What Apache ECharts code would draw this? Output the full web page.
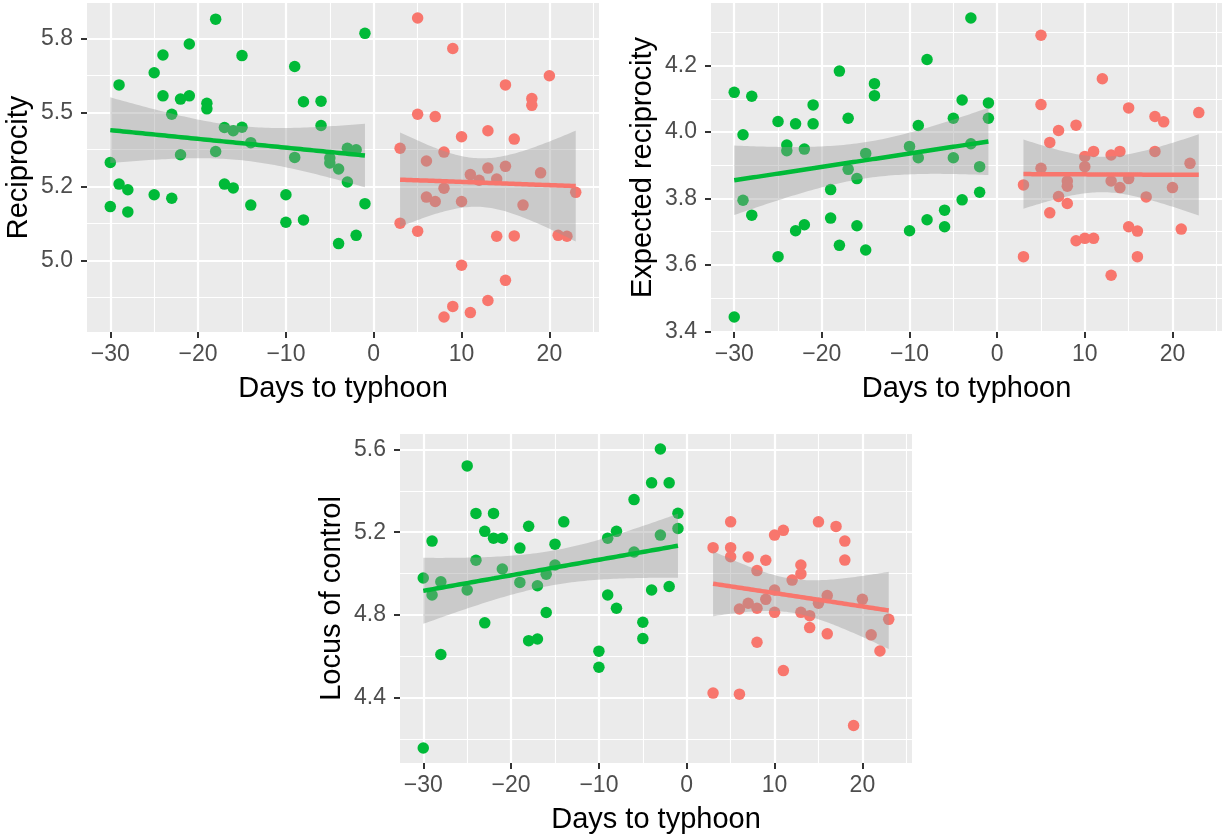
<!DOCTYPE html>
<html>
<head>
<meta charset="utf-8">
<script src="https://cdn.jsdelivr.net/npm/echarts@6/dist/echarts.min.js"></script>
<style>
html,body{margin:0;padding:0;background:#ffffff;}
#chart{width:1223px;height:838px;}
</style>
</head>
<body>
<div id="chart"></div>
<script>
// ---------- shared axis data ----------
const xTitle = 'Days to typhoon';
const xTicks = [-30, -20, -10, 0, 10, 20];
const xMinorTicks = [-25, -15, -5, 5, 15, 25];

// ---------- Panel 1: Reciprocity ----------
const recipTitle = 'Reciprocity';
const recipTicks = [5.0, 5.25, 5.5, 5.75];
const recipTickLabels = ['5.0', '5.2', '5.5', '5.8'];
const recipMinorTicks = [4.875, 5.125, 5.375, 5.625];
const recipBeforeDays = [-30,-30,-29,-29,-28,-28,-25,-25,-24,-24,-23,-23,-22,-22,-21,-21,-19,-19,-18,-18,-17,-17,-16,-16,-15,-15,-14,-14,-10,-10,-9,-9,-8,-8,-6,-6,-5,-5,-4,-4,-3,-3,-2,-2,-1,-1];
const recipBeforeVals = [5.331,5.182,5.593,5.258,5.239,5.164,5.634,5.222,5.694,5.556,5.494,5.210,5.545,5.357,5.731,5.556,5.531,5.512,5.815,5.368,5.449,5.258,5.438,5.245,5.692,5.450,5.398,5.187,5.222,5.129,5.655,5.348,5.536,5.137,5.538,5.456,5.346,5.329,5.309,5.057,5.379,5.265,5.374,5.085,5.767,5.192];
const recipAfterDays = [3,3,5,5,5,6,6,7,7,8,8,8,9,9,10,10,10,11,11,12,13,13,13,14,14,15,15,15,16,16,17,18,18,19,20,21,22,23];
const recipAfterVals = [5.379,5.126,5.819,5.494,5.099,5.336,5.214,5.486,5.199,5.366,5.244,4.809,5.716,4.845,5.418,5.199,4.984,5.290,4.824,5.271,5.438,5.312,4.865,5.275,5.082,5.593,5.318,4.933,5.410,5.083,5.187,5.547,5.524,5.296,5.624,5.085,5.082,5.230];

// ---------- Panel 2: Expected reciprocity ----------
const expTitle = 'Expected reciprocity';
const expTicks = [3.4, 3.6, 3.8, 4.0, 4.2];
const expTickLabels = ['3.4', '3.6', '3.8', '4.0', '4.2'];
const expMinorTicks = [3.5, 3.7, 3.9, 4.1, 4.3];
const expBeforeDays = [-30,-30,-29,-29,-28,-28,-25,-25,-24,-24,-23,-23,-22,-22,-21,-21,-19,-19,-18,-18,-17,-17,-16,-16,-15,-15,-14,-14,-10,-10,-9,-9,-8,-8,-6,-6,-5,-5,-4,-4,-3,-3,-2,-2,-1,-1];
const expBeforeVals = [4.120,3.443,3.992,3.795,4.108,3.750,4.032,3.625,3.961,3.944,4.025,3.703,3.949,3.721,4.082,4.025,3.827,3.741,4.184,3.659,4.042,3.888,3.860,3.718,3.936,3.645,4.146,4.110,3.957,3.703,4.020,3.923,4.219,3.736,3.765,3.715,4.042,3.923,4.097,3.796,4.344,3.965,3.896,3.819,4.088,4.042];
const expAfterDays = [3,3,5,5,5,6,6,7,7,8,8,8,9,9,10,10,10,11,11,12,13,13,13,14,14,15,15,15,16,16,17,18,18,19,20,21,22,23];
const expAfterVals = [3.841,3.625,4.292,4.083,3.891,3.969,3.757,4.005,3.806,3.853,3.837,3.785,4.021,3.673,3.927,3.896,3.680,3.942,3.680,4.161,3.931,3.853,3.569,3.942,3.833,4.073,3.860,3.715,3.702,3.625,3.805,4.047,3.942,4.031,3.833,3.708,3.906,4.059];

// ---------- Panel 3: Locus of control ----------
const locTitle = 'Locus of control';
const locTicks = [4.4, 4.8, 5.2, 5.6];
const locTickLabels = ['4.4', '4.8', '5.2', '5.6'];
const locMinorTicks = [4.2, 4.6, 5.0, 5.4];
const locBeforeDays = [-30,-30,-29,-29,-28,-28,-25,-25,-24,-24,-23,-23,-22,-22,-21,-21,-19,-19,-18,-18,-17,-17,-16,-16,-15,-15,-14,-10,-10,-9,-9,-8,-8,-6,-6,-5,-5,-4,-4,-3,-3,-2,-2,-1,-1];
const locBeforeVals = [4.978,4.155,5.157,4.896,4.960,4.608,5.521,4.920,5.291,5.064,5.204,4.761,5.291,5.171,5.171,5.022,5.123,4.957,5.229,4.675,4.941,4.683,4.997,4.811,5.142,5.041,5.250,4.624,4.546,5.171,4.896,5.204,4.832,5.358,5.104,4.764,4.685,5.439,4.920,5.603,5.186,5.439,4.937,5.292,5.218];
const locAfterDays = [3,3,5,5,5,6,6,7,7,8,8,8,9,9,10,10,10,11,11,12,13,13,13,14,14,15,15,16,16,17,18,18,19,20,21,22,23];
const locAfterVals = [5.125,4.421,5.250,5.125,5.081,4.828,4.416,5.080,4.856,5.014,4.832,4.667,5.064,4.875,5.186,4.920,4.812,5.209,4.530,4.968,5.041,4.998,4.812,4.796,4.738,5.250,4.856,4.893,4.708,5.228,5.157,5.065,4.264,4.875,4.703,4.625,4.778];

// ---------- styling ----------
const GREEN = '#00BA38';
const RED = '#F8766D';
const FONT = '"Liberation Sans", Arial, Helvetica, sans-serif';

function zip(a, b) { return a.map((v, i) => [v, b[i]]); }

function tQuantile(df) {
  const z = 1.959963985;
  const g1 = (Math.pow(z,3) + z) / 4;
  const g2 = (5*Math.pow(z,5) + 16*Math.pow(z,3) + 3*z) / 96;
  const g3 = (3*Math.pow(z,7) + 19*Math.pow(z,5) + 17*Math.pow(z,3) - 15*z) / 384;
  return z + g1/df + g2/(df*df) + g3/(df*df*df);
}

function fitLm(xs, ys) {
  const n = xs.length;
  const xbar = xs.reduce((s, v) => s + v, 0) / n;
  const ybar = ys.reduce((s, v) => s + v, 0) / n;
  let sxx = 0, sxy = 0;
  for (let i = 0; i < n; i++) { sxx += (xs[i]-xbar)*(xs[i]-xbar); sxy += (xs[i]-xbar)*(ys[i]-ybar); }
  const b = sxy / sxx, a = ybar - b * xbar;
  let sse = 0;
  for (let i = 0; i < n; i++) { const r = ys[i] - (a + b*xs[i]); sse += r*r; }
  const s = Math.sqrt(sse / (n - 2));
  const t = tQuantile(n - 2);
  const lo = Math.min(...xs), hi = Math.max(...xs);
  const band = [], line = [];
  const N = 80;
  for (let k = 0; k < N; k++) {
    const x = lo + (hi - lo) * k / (N - 1);
    const yhat = a + b * x;
    const se = s * Math.sqrt(1/n + (x - xbar)*(x - xbar)/sxx);
    band.push([x, yhat - t*se, yhat + t*se]);
    line.push([x, yhat]);
  }
  return { band, line };
}

function expandRange(vals) {
  const mn = Math.min(...vals), mx = Math.max(...vals);
  const r = mx - mn;
  return [mn - 0.05*r, mx + 0.05*r];
}

const allDays = [].concat(recipBeforeDays, recipAfterDays, expBeforeDays, expAfterDays, locBeforeDays, locAfterDays);
const xRange = expandRange(allDays);

const panels = [
  { title: recipTitle, ticks: recipTicks, labels: recipTickLabels, minor: recipMinorTicks,
    bd: recipBeforeDays, bv: recipBeforeVals, ad: recipAfterDays, av: recipAfterVals,
    grid: { left: 87, top: 3, width: 512, height: 329 } },
  { title: expTitle, ticks: expTicks, labels: expTickLabels, minor: expMinorTicks,
    bd: expBeforeDays, bv: expBeforeVals, ad: expAfterDays, av: expAfterVals,
    grid: { left: 711, top: 3, width: 511, height: 329 } },
  { title: locTitle, ticks: locTicks, labels: locTickLabels, minor: locMinorTicks,
    bd: locBeforeDays, bv: locBeforeVals, ad: locAfterDays, av: locAfterVals,
    grid: { left: 400, top: 434, width: 512, height: 329 } }
];

const grids = [], xAxes = [], yAxes = [], series = [];

function fmtX(v) { return v < 0 ? '\u2212' + Math.abs(v) : String(v); }

const TICK_FONT = 23, TITLE_FONT = 29;

panels.forEach((p, i) => {
  grids.push(Object.assign({ show: true, backgroundColor: '#EBEBEB', borderWidth: 0, containLabel: false, outerBoundsMode: 'none' }, p.grid));
  const yRange = expandRange(p.bv.concat(p.av));
  const xMain = 2*i;
  xAxes.push({
    type: 'value', gridIndex: i, min: xRange[0], max: xRange[1], position: 'bottom',
    axisLine: { show: false, onZero: false },
    axisTick: { show: true, customValues: xTicks, length: 6, lineStyle: { color: '#333333', width: 2 } },
    axisLabel: { show: true, customValues: xTicks, formatter: fmtX, color: '#4D4D4D', fontSize: TICK_FONT, fontFamily: FONT, margin: 11 },
    splitLine: { show: true, lineStyle: { color: '#FFFFFF', width: 2.2 } },
    name: xTitle, nameLocation: 'middle', nameGap: 42,
    nameTextStyle: { color: '#000000', fontSize: TITLE_FONT, fontFamily: FONT }
  });
  xAxes.push({
    type: 'value', gridIndex: i, min: xRange[0], max: xRange[1], position: 'top',
    axisLine: { show: false, onZero: false },
    axisTick: { show: false, customValues: xMinorTicks },
    axisLabel: { show: false, customValues: xMinorTicks },
    splitLine: { show: true, lineStyle: { color: '#FFFFFF', width: 1.1 } }
  });
  const labs = p.labels, tks = p.ticks;
  yAxes.push({
    type: 'value', gridIndex: i, min: yRange[0], max: yRange[1], position: 'left',
    axisLine: { show: false, onZero: false },
    axisTick: { show: true, customValues: tks, length: 6, lineStyle: { color: '#333333', width: 2 } },
    axisLabel: { show: true, customValues: tks, color: '#4D4D4D', fontSize: TICK_FONT, fontFamily: FONT, margin: 14,
      formatter: v => { const k = tks.findIndex(t => Math.abs(t - v) < 1e-6); return k >= 0 ? labs[k] : ''; } },
    splitLine: { show: true, lineStyle: { color: '#FFFFFF', width: 2.2 } },
    name: p.title, nameLocation: 'middle', nameGap: 54, nameRotate: 90,
    nameTextStyle: { color: '#000000', fontSize: TITLE_FONT, fontFamily: FONT }
  });
  yAxes.push({
    type: 'value', gridIndex: i, min: yRange[0], max: yRange[1], position: 'right',
    axisLine: { show: false, onZero: false },
    axisTick: { show: false, customValues: p.minor },
    axisLabel: { show: false, customValues: p.minor },
    splitLine: { show: true, lineStyle: { color: '#FFFFFF', width: 1.1 } }
  });
  const yMain = 2*i;
  const groups = [
    { d: p.bd, v: p.bv, color: GREEN },
    { d: p.ad, v: p.av, color: RED }
  ];
  groups.forEach(g => {
    series.push({
      type: 'scatter', xAxisIndex: xMain, yAxisIndex: yMain, z: 2, silent: true,
      symbol: 'circle', symbolSize: 11.5, itemStyle: { color: g.color, opacity: 1 },
      data: zip(g.d, g.v)
    });
  });
  groups.forEach(g => {
    const fit = fitLm(g.d, g.v);
    series.push({
      type: 'custom', xAxisIndex: xMain, yAxisIndex: yMain, z: 3, silent: true,
      data: fit.band, encode: { x: 0, y: [1, 2] },
      renderItem: (params, api) => {
        if (params.dataIndex !== 0) return null;
        const up = fit.band.map(r => api.coord([r[0], r[2]]));
        const dn = fit.band.slice().reverse().map(r => api.coord([r[0], r[1]]));
        return { type: 'polygon', shape: { points: up.concat(dn) }, style: { fill: 'rgba(153,153,153,0.4)' } };
      }
    });
  });
  groups.forEach(g => {
    const fit = fitLm(g.d, g.v);
    series.push({
      type: 'line', xAxisIndex: xMain, yAxisIndex: yMain, z: 4, silent: true,
      showSymbol: false, symbol: 'none', data: fit.line,
      lineStyle: { color: g.color, width: 4.5, cap: 'butt' }
    });
  });
});

const chart = echarts.init(document.getElementById('chart'), null, { renderer: 'canvas' });
chart.setOption({
  animation: false,
  backgroundColor: '#FFFFFF',
  grid: grids,
  xAxis: xAxes,
  yAxis: yAxes,
  series: series
});
</script>
</body>
</html>
